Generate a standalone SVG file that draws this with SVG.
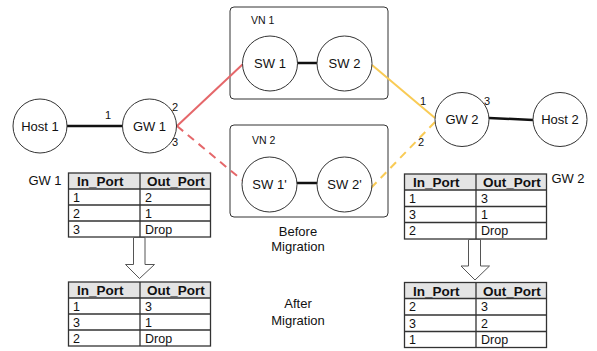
<svg xmlns="http://www.w3.org/2000/svg" width="597" height="351" viewBox="0 0 597 351">
  <style>
    text { font-family: "Liberation Sans", Arial, sans-serif; fill: #111; }
    .node { fill: #fff; stroke: #333; stroke-width: 1; }
    .box { fill: #fff; stroke: #333; stroke-width: 1; }
    .lbl { font-size: 13px; text-anchor: middle; }
    .port { font-size: 11px; }
    .vn { font-size: 10.5px; }
    .cap { font-size: 13px; text-anchor: middle; }
    .link { stroke: #111; stroke-width: 2.5; fill: none; }
    .red { stroke: #e5676a; stroke-width: 2; fill: none; }
    .yel { stroke: #f9cb55; stroke-width: 2; fill: none; }
    .dash { stroke-dasharray: 8 6; }
    .hdr { fill: #e4e4e4; }
    .grid { stroke: #333; stroke-width: 1.3; fill: none; }
    .th { font-size: 13.5px; font-weight: bold; }
    .td { font-size: 12.5px; }
    .arrow { fill: #fff; stroke: #555; stroke-width: 1; }
  </style>

  <!-- virtual network containers -->
  <g id="vn1">
    <rect class="box" x="230" y="7" width="158" height="92" rx="4"/>
    <text class="vn" x="251" y="24">VN 1</text>
  </g>
  <g id="vn2">
    <rect class="box" x="230" y="125" width="158" height="92" rx="4"/>
    <text class="vn" x="252" y="144">VN 2</text>
  </g>

  <!-- links -->
  <g id="connectors">
    <line class="link" x1="67" y1="126" x2="122" y2="126"/>
    <line class="link" x1="297" y1="63" x2="317" y2="63"/>
    <line class="link" x1="297" y1="183" x2="317" y2="183"/>
    <line class="link" x1="489" y1="118" x2="533" y2="120"/>
    <line class="red" x1="177" y1="126" x2="243" y2="64"/>
    <line class="red dash" x1="177" y1="126" x2="242" y2="180"/>
    <line class="yel" x1="372" y1="65" x2="435" y2="118"/>
    <line class="yel dash" x1="435" y1="122" x2="370" y2="189"/>
  </g>

  <!-- hosts, gateways and switches -->
  <g id="host1">
    <circle class="node" cx="40" cy="126" r="27"/>
    <text class="lbl" x="40" y="130.5">Host 1</text>
  </g>
  <g id="gw1">
    <circle class="node" cx="149.5" cy="126" r="27"/>
    <text class="lbl" x="149.5" y="130.5">GW 1</text>
    <text class="port" x="105" y="119">1</text>
    <text class="port" x="172" y="111">2</text>
    <text class="port" x="172" y="146">3</text>
  </g>
  <g id="sw1">
    <circle class="node" cx="270" cy="63.5" r="27.5"/>
    <text class="lbl" x="270" y="68">SW 1</text>
  </g>
  <g id="sw2">
    <circle class="node" cx="344.5" cy="63.5" r="27.5"/>
    <text class="lbl" x="344.5" y="68">SW 2</text>
  </g>
  <g id="sw1p">
    <circle class="node" cx="269.5" cy="184.5" r="27.5"/>
    <text class="lbl" x="269.5" y="189">SW 1'</text>
  </g>
  <g id="sw2p">
    <circle class="node" cx="344.5" cy="184.5" r="27.5"/>
    <text class="lbl" x="344.5" y="189">SW 2'</text>
  </g>
  <g id="gw2">
    <circle class="node" cx="462" cy="119.5" r="27"/>
    <text class="lbl" x="462" y="124">GW 2</text>
    <text class="port" x="420" y="105">1</text>
    <text class="port" x="484" y="105">3</text>
    <text class="port" x="418" y="146">2</text>
  </g>
  <g id="host2">
    <circle class="node" cx="560" cy="119.5" r="27"/>
    <text class="lbl" x="560" y="124">Host 2</text>
  </g>

  <!-- captions -->
  <g id="captions">
    <text class="cap" x="298" y="236">Before</text>
    <text class="cap" x="298" y="251">Migration</text>
    <text class="cap" x="298" y="308">After</text>
    <text class="cap" x="298" y="325">Migration</text>
    <text class="lbl" x="45" y="185">GW 1</text>
    <text class="lbl" x="568" y="183">GW 2</text>
  </g>

  <!-- GW 1 flow table, before -->
  <g id="gw1-before">
    <rect class="hdr" x="68.5" y="173" width="142" height="16"/>
    <rect class="grid" x="68.5" y="173" width="142" height="64"/>
    <path class="grid" d="M140,173V237M68.5,189H210.5M68.5,205H210.5M68.5,221H210.5"/>
    <text class="th" x="77" y="186">In_Port</text>
    <text class="th" x="147" y="186">Out_Port</text>
    <text class="td" x="73" y="201.5">1</text><text class="td" x="145" y="201.5">2</text>
    <text class="td" x="73" y="217.5">2</text><text class="td" x="145" y="217.5">1</text>
    <text class="td" x="73" y="233.5">3</text><text class="td" x="145" y="233.5">Drop</text>
  </g>
  <path id="gw1-arrow" class="arrow" d="M133.5,237.5H145V264.5H154.5L139.5,278.5L125.5,264.5H133.5Z"/>
  <g id="gw1-after">
    <rect class="hdr" x="68.5" y="282" width="142" height="16"/>
    <rect class="grid" x="68.5" y="282" width="142" height="64"/>
    <path class="grid" d="M140,282V346M68.5,298H210.5M68.5,314H210.5M68.5,330H210.5"/>
    <text class="th" x="77" y="295">In_Port</text>
    <text class="th" x="147" y="295">Out_Port</text>
    <text class="td" x="73" y="310.5">1</text><text class="td" x="145" y="310.5">3</text>
    <text class="td" x="73" y="326.5">3</text><text class="td" x="145" y="326.5">1</text>
    <text class="td" x="73" y="342.5">2</text><text class="td" x="145" y="342.5">Drop</text>
  </g>

  <!-- GW 2 flow table, before -->
  <g id="gw2-before">
    <rect class="hdr" x="404.5" y="174" width="142" height="16"/>
    <rect class="grid" x="404.5" y="174" width="142" height="65"/>
    <path class="grid" d="M476,174V239M404.5,190H546.5M404.5,206.5H546.5M404.5,222.5H546.5"/>
    <text class="th" x="413" y="187">In_Port</text>
    <text class="th" x="483" y="187">Out_Port</text>
    <text class="td" x="409" y="202.5">1</text><text class="td" x="481" y="202.5">3</text>
    <text class="td" x="409" y="219">3</text><text class="td" x="481" y="219">1</text>
    <text class="td" x="409" y="235">2</text><text class="td" x="481" y="235">Drop</text>
  </g>
  <path id="gw2-arrow" class="arrow" d="M468.5,239.5H480.5V266H489.5L475,280L461,266H468.5Z"/>
  <g id="gw2-after">
    <rect class="hdr" x="404.5" y="282.5" width="142" height="16"/>
    <rect class="grid" x="404.5" y="282.5" width="142" height="65"/>
    <path class="grid" d="M476,282.5V347.5M404.5,298.5H546.5M404.5,315H546.5M404.5,331.5H546.5"/>
    <text class="th" x="413" y="295.5">In_Port</text>
    <text class="th" x="483" y="295.5">Out_Port</text>
    <text class="td" x="409" y="311">2</text><text class="td" x="481" y="311">3</text>
    <text class="td" x="409" y="327.5">3</text><text class="td" x="481" y="327.5">2</text>
    <text class="td" x="409" y="344">1</text><text class="td" x="481" y="344">Drop</text>
  </g>
</svg>
